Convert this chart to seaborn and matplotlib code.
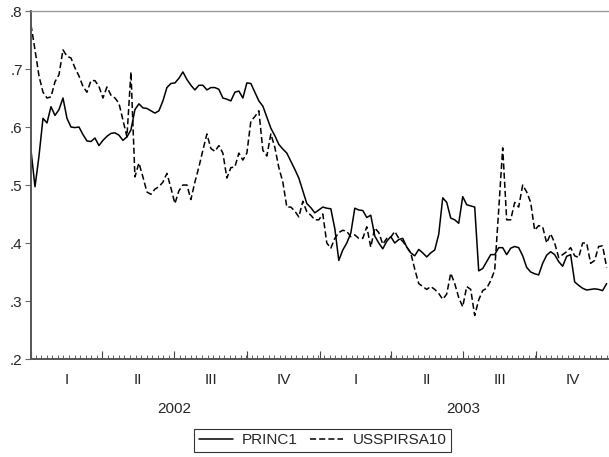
import pandas as pd
import matplotlib
matplotlib.use("Agg")
import matplotlib.pyplot as plt
import matplotlib.dates as mdates
import matplotlib.transforms as mtransforms
import seaborn as sns

# values, roughly every 5 days from Jan 2002 to Dec 2003
princ1 = [
    0.560, 0.497, 0.550, 0.615, 0.607, 0.635, 0.620, 0.630, 0.650, 0.615,
    0.600, 0.599, 0.600, 0.587, 0.576, 0.575, 0.581, 0.568, 0.577, 0.584,
    0.589, 0.590, 0.586, 0.577, 0.583, 0.595, 0.630, 0.640, 0.633, 0.632,
    0.628, 0.624, 0.628, 0.645, 0.668, 0.675, 0.676, 0.684, 0.695, 0.682,
    0.672, 0.664, 0.672, 0.672, 0.664, 0.668, 0.668, 0.665, 0.650, 0.648,
    0.645, 0.660, 0.662, 0.650, 0.676, 0.675, 0.660, 0.645, 0.636, 0.617,
    0.598, 0.585, 0.570, 0.562, 0.555, 0.541, 0.527, 0.512, 0.490, 0.468,
    0.461, 0.452, 0.457, 0.462, 0.460, 0.459, 0.425, 0.370, 0.388, 0.400,
    0.417, 0.460, 0.457, 0.456, 0.444, 0.448, 0.412, 0.400, 0.390, 0.403,
    0.411, 0.400, 0.406, 0.408, 0.393, 0.383, 0.378, 0.389, 0.383, 0.376,
    0.383, 0.388, 0.415, 0.478, 0.470, 0.443, 0.440, 0.434, 0.480, 0.466,
    0.464, 0.462, 0.352, 0.356, 0.368, 0.380, 0.380, 0.392, 0.392, 0.380,
    0.391, 0.394, 0.392, 0.378, 0.358, 0.350, 0.347, 0.345, 0.365, 0.379,
    0.385, 0.380, 0.368, 0.360, 0.377, 0.380, 0.333, 0.327, 0.322, 0.319,
    0.320, 0.321, 0.320, 0.318, 0.330,
]
usspirsa10 = [
    0.776, 0.733, 0.688, 0.660, 0.650, 0.652, 0.678, 0.690, 0.733, 0.722,
    0.719, 0.702, 0.688, 0.670, 0.660, 0.680, 0.680, 0.670, 0.650, 0.669,
    0.655, 0.650, 0.641, 0.612, 0.583, 0.695, 0.514, 0.538, 0.514, 0.488,
    0.484, 0.493, 0.497, 0.505, 0.520, 0.495, 0.468, 0.490, 0.500, 0.500,
    0.475, 0.505, 0.531, 0.560, 0.588, 0.563, 0.558, 0.568, 0.555, 0.512,
    0.530, 0.531, 0.555, 0.543, 0.555, 0.610, 0.618, 0.628, 0.560, 0.550,
    0.588, 0.565, 0.530, 0.505, 0.462, 0.462, 0.455, 0.445, 0.472, 0.454,
    0.448, 0.440, 0.440, 0.450, 0.400, 0.391, 0.408, 0.418, 0.422, 0.420,
    0.411, 0.414, 0.408, 0.408, 0.428, 0.393, 0.426, 0.418, 0.398, 0.408,
    0.410, 0.420, 0.408, 0.403, 0.393, 0.383, 0.355, 0.330, 0.325, 0.320,
    0.325, 0.320, 0.313, 0.303, 0.312, 0.348, 0.330, 0.306, 0.290, 0.325,
    0.320, 0.275, 0.302, 0.318, 0.322, 0.335, 0.353, 0.457, 0.564, 0.440,
    0.440, 0.470, 0.462, 0.500, 0.488, 0.470, 0.422, 0.430, 0.428, 0.400,
    0.416, 0.400, 0.375, 0.380, 0.385, 0.392, 0.378, 0.375, 0.400, 0.400,
    0.365, 0.370, 0.394, 0.395, 0.358,
]
quarter_labels = ["I", "II", "III", "IV"]
years = [2002, 2003]
y_ticks = [0.2, 0.3, 0.4, 0.5, 0.6, 0.7, 0.8]

dates = pd.date_range("2002-01-01", "2003-12-29", periods=len(princ1))
df = pd.DataFrame({"date": dates, "PRINC1": princ1, "USSPIRSA10": usspirsa10})

sns.set_style("ticks")
plt.rcParams["font.family"] = ["Liberation Sans", "DejaVu Sans"]

fig = plt.figure(figsize=(6.09, 4.57), dpi=100)
ax = fig.add_axes([0.0509, 0.2144, 0.9491, 0.7615])

sns.lineplot(data=df, x="date", y="PRINC1", ax=ax, color="black",
             linewidth=1.1, label="PRINC1")
sns.lineplot(data=df, x="date", y="USSPIRSA10", ax=ax, color="black",
             linewidth=1.1, linestyle=(0, (4, 2)), label="USSPIRSA10")

ax.set_xlim(pd.Timestamp("2002-01-01"), pd.Timestamp("2004-01-01"))
ax.set_ylim(0.2, 0.8)
ax.set_xlabel("")
ax.set_ylabel("")

# y axis: EViews style labels without leading zero
ax.set_yticks(y_ticks)
ax.set_yticklabels(["." + f"{t:.1f}".split(".")[1] for t in y_ticks], fontsize=11)
ax.tick_params(axis="y", direction="out", length=4, color="#666666", pad=2)

# x axis: quarter ticks, weekly minor ticks, labels drawn as text
ax.xaxis.set_major_locator(mdates.MonthLocator(bymonth=[1, 4, 7, 10]))
ax.xaxis.set_minor_locator(mdates.WeekdayLocator(byweekday=mdates.MO))
ax.xaxis.set_major_formatter(plt.NullFormatter())
ax.tick_params(axis="x", which="major", direction="in", length=6, width=0.8, color="#444444")
ax.tick_params(axis="x", which="minor", direction="in", length=3, width=0.6, color="#444444")

trans = mtransforms.blended_transform_factory(ax.transData, ax.transAxes)
for yr in years:
    for q, lab in enumerate(quarter_labels):
        start = pd.Timestamp(year=yr, month=3 * q + 1, day=1)
        end = start + pd.offsets.QuarterBegin(startingMonth=1)
        mid = start + (end - start) / 2
        ax.text(mdates.date2num(mid), -0.06, lab, transform=trans,
                ha="center", va="center", fontsize=11)
    mid_year = pd.Timestamp(year=yr, month=7, day=1)
    ax.text(mdates.date2num(mid_year), -0.145, str(yr), transform=trans,
            ha="center", va="center", fontsize=11)

for side in ["left", "bottom"]:
    ax.spines[side].set_color("#555555")
    ax.spines[side].set_linewidth(1.4)
ax.spines["top"].set_color("#999999")
ax.spines["top"].set_linewidth(1.0)
ax.spines["right"].set_visible(False)

ax.get_legend().remove()
leg = fig.legend(loc="center", bbox_to_anchor=(0.53, 0.037), ncol=2,
                 frameon=True, fancybox=False, edgecolor="black",
                 fontsize=11, handlelength=2.2, columnspacing=0.8,
                 borderpad=0.3, handletextpad=0.6)
leg.get_frame().set_linewidth(0.8)

fig.savefig("out.png", dpi=100)
